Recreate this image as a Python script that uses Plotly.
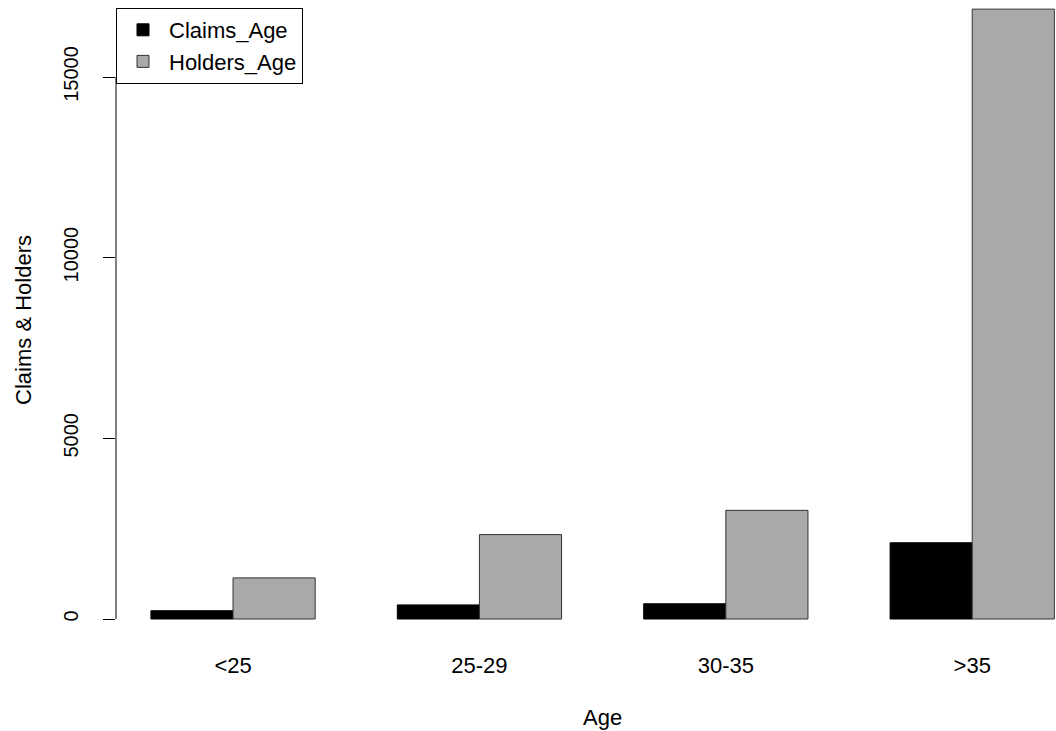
import plotly.graph_objects as go

# Insurance claims vs policy holders by age band
age_groups = ["<25", "25-29", "30-35", ">35"]
claims_age = [229, 390, 422, 2110]
holders_age = [1138, 2336, 3007, 16878]
y_ticks = [0, 5000, 10000, 15000]

font_family = "Liberation Sans, Arial, sans-serif"

fig = go.Figure()

fig.add_trace(go.Bar(
    x=age_groups,
    y=claims_age,
    name="Claims_Age",
    marker=dict(color="black", line=dict(color="black", width=1)),
))

fig.add_trace(go.Bar(
    x=age_groups,
    y=holders_age,
    name="Holders_Age",
    marker=dict(color="#A9A9A9", line=dict(color="#333333", width=1)),
))

# R-style y axis: line only spans the tick range
fig.add_shape(
    type="line", xref="paper", yref="y",
    x0=0, x1=0, y0=min(y_ticks), y1=max(y_ticks),
    line=dict(color="black", width=1),
)

# x title: R centres it on a plot region wider than the visible picture
fig.add_annotation(
    text="Age", xref="paper", yref="paper",
    x=0.518, y=0, xanchor="center", yanchor="middle",
    yshift=-77, showarrow=False, font=dict(size=22),
)

fig.update_layout(
    width=1056,
    height=731,
    margin=dict(l=116, r=0, t=0, b=91),
    plot_bgcolor="white",
    paper_bgcolor="white",
    font=dict(family=font_family, size=22, color="black"),
    barmode="group",
    bargap=1 / 3,
    bargroupgap=0,
    showlegend=True,
    legend=dict(
        x=0, y=0.9875, xanchor="left", yanchor="top",
        bordercolor="black", borderwidth=1, bgcolor="white",
        font=dict(size=22),
        itemwidth=42,
        traceorder="normal",
    ),
    xaxis=dict(
        range=[-0.475, 3.34],
        showline=False, showgrid=False, zeroline=False,
        ticks="", ticklabelstandoff=10,
    ),
    yaxis=dict(
        range=[-581, 17131],
        tickvals=y_ticks,
        ticktext=[str(v) for v in y_ticks],
        tickangle=-90,
        tickfont=dict(size=20),
        ticks="outside", ticklen=12, tickcolor="black",
        ticklabelstandoff=17,
        showline=False, showgrid=False, zeroline=False,
        title=dict(text="Claims & Holders", standoff=22, font=dict(size=22)),
    ),
)

fig.write_html(
    "out.html",
    config={"displayModeBar": False},
    post_script="document.body.style.margin='0';",
)
